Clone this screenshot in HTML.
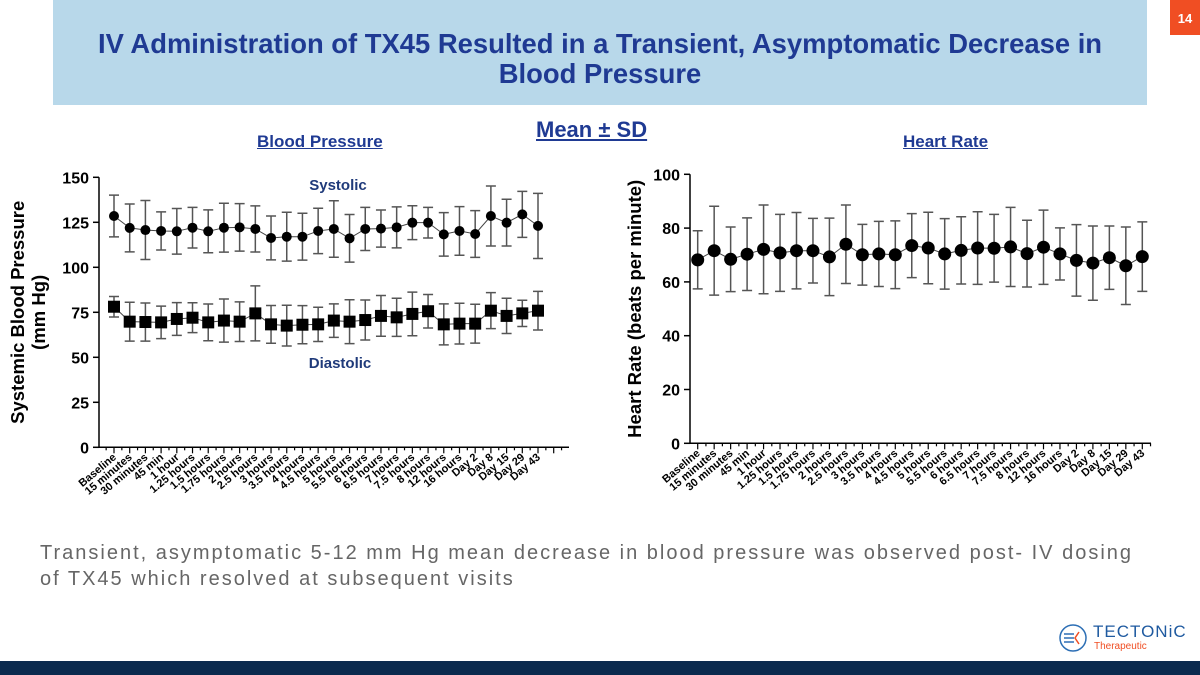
<!DOCTYPE html>
<html><head><meta charset="utf-8">
<style>
body{margin:0;width:1200px;height:675px;overflow:hidden;background:#fff;font-family:"Liberation Sans",sans-serif;position:relative}
.abs{position:absolute}
</style></head><body>
<div class="abs" style="left:53px;top:0;width:1094px;height:105px;background:#b8d8ea"></div>
<div class="abs" style="left:53px;top:29px;width:1094px;text-align:center;color:#1f3a93;font-weight:bold;font-size:27.4px;line-height:30px">IV Administration of TX45 Resulted in a Transient, Asymptomatic Decrease in<br>Blood Pressure</div>
<div class="abs" style="left:1170px;top:0;width:30px;height:35px;background:#f04e23;color:#fff;font-weight:bold;font-size:13px;text-align:center;line-height:38px">14</div>
<div class="abs" style="left:536px;top:117px;color:#1f3a93;font-weight:bold;font-size:22px;text-decoration:underline">Mean ± SD</div>
<div class="abs" style="left:257px;top:132px;color:#1f3a93;font-weight:bold;font-size:17px;text-decoration:underline">Blood Pressure</div>
<div class="abs" style="left:903px;top:132px;color:#1f3a93;font-weight:bold;font-size:17px;text-decoration:underline">Heart Rate</div>
<svg class="abs" style="left:0;top:0" width="1200" height="675" id="charts"></svg>
<div class="abs" style="left:40px;top:540px;color:#666;font-size:20px;letter-spacing:2px;line-height:26px;width:1150px">Transient, asymptomatic 5-12 mm Hg mean decrease in blood pressure was observed post- IV dosing<br>of TX45 which resolved at subsequent visits</div>
<div class="abs" style="left:1058px;top:620px;width:110px;height:36px">
<svg width="30" height="30" style="position:absolute;left:0;top:3px"><circle cx="15" cy="15" r="13" fill="none" stroke="#2d6fb5" stroke-width="1.5"/><path d="M6 11h10M6 15h10M6 19h10" stroke="#2d6fb5" stroke-width="1.5"/><path d="M21 9l-4 6 4 6" stroke="#f04e23" stroke-width="1.5" fill="none"/></svg>
<div style="position:absolute;left:35px;top:2px;color:#1f5aa0;font-size:17px;letter-spacing:1px">TECTONiC</div>
<div style="position:absolute;left:36px;top:21px;color:#f04e23;font-size:10px">Therapeutic</div>
</div>
<div class="abs" style="left:0;top:661px;width:1200px;height:14px;background:#0b2a4e"></div>
<script>
const categories=["Baseline","15 minutes","30 minutes","45 min","1 hour","1.25 hours","1.5 hours","1.75 hours","2 hours","2.5 hours","3 hours","3.5 hours","4 hours","4.5 hours","5 hours","5.5 hours","6 hours","6.5 hours","7 hours","7.5 hours","8 hours","12 hours","16 hours","Day 2","Day 8","Day 15","Day 29","Day 43"];
const systolic=[128.5,121.9,120.7,120.2,120,122,120,122,122.2,121.3,116.3,117,117,120.2,121.3,116.1,121.3,121.5,122.2,124.8,124.8,118.3,120.2,118.5,128.5,124.8,129.4,123];
const systolicSD=[11.6,13.3,16.4,10.6,12.7,11.3,11.9,13.6,13.2,12.8,12.2,13.6,13,12.6,15.7,13.2,12,10.3,11.4,9.4,8.5,12.1,13.5,13,16.7,13,12.8,18.1];
const diastolic=[78.1,69.8,69.6,69.4,71.3,72,69.4,70.4,69.8,74.4,68.3,67.6,68.1,68.3,70.4,69.8,70.7,73,72.2,74.1,75.6,68.3,68.7,68.7,75.9,73,74.4,75.9];
const diastolicSD=[5.7,10.8,10.6,9,9.1,8.3,10.2,12,11,15.3,10.5,11.3,10.6,9.5,9.3,12.2,11.1,11.3,10.6,12.1,9.3,11.4,11.3,10.8,10,9.8,7.3,10.7];
const heartRate=[68.2,71.6,68.4,70.3,72.1,70.8,71.6,71.6,69.3,74,70.1,70.4,70.1,73.5,72.6,70.4,71.7,72.6,72.5,73,70.5,72.9,70.4,68,67,69,66,69.4];
const heartRateSD=[10.8,16.5,12,13.5,16.5,14.3,14.2,12,14.4,14.6,11.3,12.1,12.6,11.9,13.3,13.1,12.5,13.5,12.6,14.7,12.4,13.8,9.7,13.3,13.8,11.8,14.4,12.9];
const bpTicks=[0,25,50,75,100,125,150];
const hrTicks=[0,20,40,60,80,100];

const svg=document.getElementById('charts');
const NS='http://www.w3.org/2000/svg';
function mk(tag,attrs,parent){const e=document.createElementNS(NS,tag);for(const k in attrs)e.setAttribute(k,attrs[k]);(parent||svg).appendChild(e);return e;}

function chart(cfg){
  const g=mk('g',{});
  
  
  const n=categories.length;
  const xs=i=>cfg.x0+(cfg.x1-cfg.x0)*i/(n-1);
  const ys=v=>cfg.yBottom-(cfg.yBottom-cfg.yTop)*(v-cfg.yMin)/(cfg.yMax-cfg.yMin);
  const ya=mk('line',{x1:cfg.ax,y1:ys(cfg.yMax),x2:cfg.ax,y2:ys(cfg.yMin),stroke:'#000','stroke-width':1.5},g);
  
  const xa=mk('line',{x1:cfg.ax,y1:ys(cfg.yMin),x2:cfg.axEnd,y2:ys(cfg.yMin),stroke:'#000','stroke-width':1.5},g);
  
  cfg.ticks.forEach(t=>{
    mk('line',{x1:cfg.ax-6,x2:cfg.ax,y1:ys(t),y2:ys(t),stroke:'#000','stroke-width':1.5},g);
    const tx=mk('text',{x:cfg.ax-10,y:ys(t)+6,'text-anchor':'end','font-size':16,'font-weight':'bold','font-family':'Liberation Sans'},g);
    tx.textContent=t;
    
  });
  const step=(cfg.x1-cfg.x0)/(n-1);
  for(let x=cfg.x0-step/2;x<=cfg.axEnd;x+=step/2){
    if(x<cfg.ax)continue;
    const major=Math.abs(((x-cfg.x0)/step)-Math.round((x-cfg.x0)/step))<0.01;
    mk('line',{x1:x,x2:x,y1:ys(cfg.yMin),y2:ys(cfg.yMin)+(major?6:3),stroke:'#000','stroke-width':1.2},g);
  }
  categories.forEach((c,i)=>{
    const x=xs(i),y=ys(cfg.yMin)+11;
    const t=mk('text',{x:x+3,y:y,'text-anchor':'end','font-size':11,'font-weight':'bold','font-family':'Liberation Sans',transform:`rotate(-40 ${x+3} ${y})`},g);
    t.textContent=c;
    
  });
  cfg.series.forEach(s=>{
    const pts=s.values.map((v,i)=>xs(i)+','+ys(v)).join(' ');
    const l=mk('polyline',{points:pts,fill:'none',stroke:'#444','stroke-width':1},g);
    
    s.values.forEach((v,i)=>{
      const x=xs(i),sd=s.sd[i];
      const eb=mk('path',{d:`M${x},${ys(v+sd)}V${ys(v-sd)}M${x-5},${ys(v+sd)}h10M${x-5},${ys(v-sd)}h10`,stroke:'#555','stroke-width':1.5,fill:'none'},g);
      
      let m;
      if(s.marker==='square') m=mk('rect',{x:x-6,y:ys(v)-6,width:12,height:12,fill:'#000'},g);
      else m=mk('circle',{cx:x,cy:ys(v),r:s.r||5,fill:'#000'},g);
      
    });
  });
  const yt=mk('text',{x:0,y:0,'text-anchor':'middle','font-size':18.5,'font-weight':'bold','font-family':'Liberation Sans',transform:`translate(${cfg.titleX},${(ys(cfg.yMin)+ys(cfg.yMax))/2}) rotate(-90)`},g);
  
  cfg.yTitle.forEach((line,k)=>{const ts=mk('tspan',{x:0,dy:k?21:0},yt);ts.textContent=line;});
}
chart({name:'blood-pressure-chart',x0:114,x1:538,ax:99,axEnd:569,yTop:177.3,yBottom:447.3,yMin:0,yMax:150,ticks:bpTicks,titleX:24,
  yTitle:['Systemic Blood Pressure','(mm Hg)'],
  series:[{name:'systolic',values:systolic,sd:systolicSD,marker:'circle',r:5},{name:'diastolic',values:diastolic,sd:diastolicSD,marker:'square'}]});
chart({name:'heart-rate-chart',x0:697.7,x1:1142.3,ax:690,axEnd:1151,yTop:174.3,yBottom:443.3,yMin:0,yMax:100,ticks:hrTicks,titleX:641,
  yTitle:['Heart Rate (beats per minute)'],
  series:[{name:'heart-rate',values:heartRate,sd:heartRateSD,marker:'circle',r:6.5}]});
const s1=mk('text',{x:338,y:190,'text-anchor':'middle','font-size':15,'font-weight':'bold',fill:'#1f3a7a','font-family':'Liberation Sans'});
s1.textContent='Systolic';
const s2=mk('text',{x:340,y:368,'text-anchor':'middle','font-size':15,'font-weight':'bold',fill:'#1f3a7a','font-family':'Liberation Sans'});
s2.textContent='Diastolic';
</script>
</body></html>
